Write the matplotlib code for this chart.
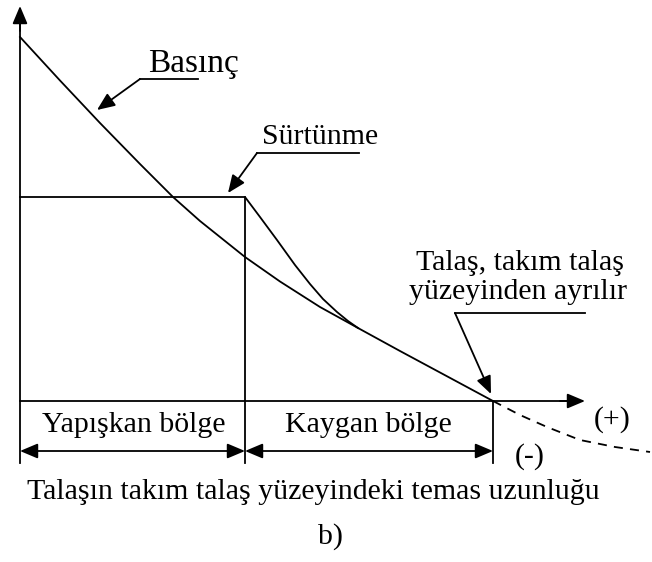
import numpy as np
import matplotlib.pyplot as plt

plt.rcParams['font.family'] = ['Liberation Serif', 'DejaVu Serif']

# Basınç eğrisi (temas boyunca)
basinc_x = [0, 40, 80, 120, 153, 180, 210, 225, 260, 300, 338, 380, 420, 473]
basinc_y = [364, 320.5, 278, 237, 204, 180, 156, 144, 119.5, 94, 73, 50, 28.5, 0]

# Talaşın ayrıldıktan sonraki kısmı (kesikli)
devam_x = [473, 500, 527, 560, 595, 630]
devam_y = [0, -14, -26, -39, -46, -51]

# Sürtünme: yapışkan bölgede sabit, kayganda basınca yaklaşır
surtunme_x = [0, 225, 240, 257, 275, 290, 303, 317, 328, 338]
surtunme_y = [204, 204, 184, 161, 136, 117, 102, 89, 80, 73]

# Bölge sınırları
bolge_sinir = [0, 225, 473]
bolge_adlari = ['Yapışkan bölge', 'Kaygan bölge']

fig = plt.figure(figsize=(6.52, 5.62), dpi=100)
ax = fig.add_axes([0, 0, 1, 1])
ax.set_xlim(-20, 632)
ax.set_ylim(-161, 401)
ax.axis('off')

lw = 1.3
fs = 21.5
ok = dict(arrowstyle='-|>,head_length=0.9,head_width=0.38', color='black',
          lw=lw, shrinkA=0, shrinkB=0, mutation_scale=12)

# eksenler
ax.plot([0, 0], [-62, 380], color='black', lw=lw)
ax.annotate('', xy=(0, 395), xytext=(0, 370), arrowprops=ok)
ax.plot([0, 550], [0, 0], color='black', lw=lw)
ax.annotate('', xy=(565, 0), xytext=(540, 0), arrowprops=ok)

# eğriler
ax.plot(basinc_x, basinc_y, color='black', lw=lw, solid_joinstyle='round')
ax.plot(devam_x, devam_y, color='black', lw=lw, linestyle=(0, (5, 4)))
ax.plot(surtunme_x, surtunme_y, color='black', lw=lw, solid_joinstyle='round')

# bölge çizgileri
ax.plot([bolge_sinir[1]] * 2, [204, -62], color='black', lw=lw)
ax.plot([bolge_sinir[2]] * 2, [0, -62], color='black', lw=lw)

# ölçü okları
for a, b in zip(bolge_sinir[:-1], bolge_sinir[1:]):
    ax.annotate('', xy=(a, -50), xytext=(b, -50),
                arrowprops=dict(ok, arrowstyle='<|-|>,head_length=0.9,head_width=0.38'))
ax.text(114, -24, bolge_adlari[0], fontsize=fs, ha='center', va='center')
ax.text(348, -24, bolge_adlari[1], fontsize=fs, ha='center', va='center')

# etiketler ve gösterge çizgileri
ax.text(173, 337, 'Basınç', fontsize=24, ha='center', va='center')
ax.plot([120, 178], [322, 322], color='black', lw=lw)
ax.annotate('', xy=(77, 291), xytext=(120, 322), arrowprops=ok)

ax.text(300, 264, 'Sürtünme', fontsize=fs, ha='center', va='center')
ax.plot([237, 339], [248, 248], color='black', lw=lw)
ax.annotate('', xy=(208, 208), xytext=(237, 248), arrowprops=ok)

ax.text(500, 138, 'Talaş, takım talaş', fontsize=fs, ha='center', va='center')
ax.text(498, 109, 'yüzeyinden ayrılır', fontsize=fs, ha='center', va='center')
ax.plot([435, 565], [88, 88], color='black', lw=lw)
ax.annotate('', xy=(471, 7), xytext=(435, 88), arrowprops=ok)

ax.text(592, -19, '(+)', fontsize=fs, ha='center', va='center')
ax.text(510, -56, '(-)', fontsize=fs, ha='center', va='center')

ax.text(293, -91, 'Talaşın takım talaş yüzeyindeki temas uzunluğu',
        fontsize=fs, ha='center', va='center')
ax.text(310, -136, 'b)', fontsize=fs, ha='center', va='center')

fig.savefig('out.png', dpi=100)
